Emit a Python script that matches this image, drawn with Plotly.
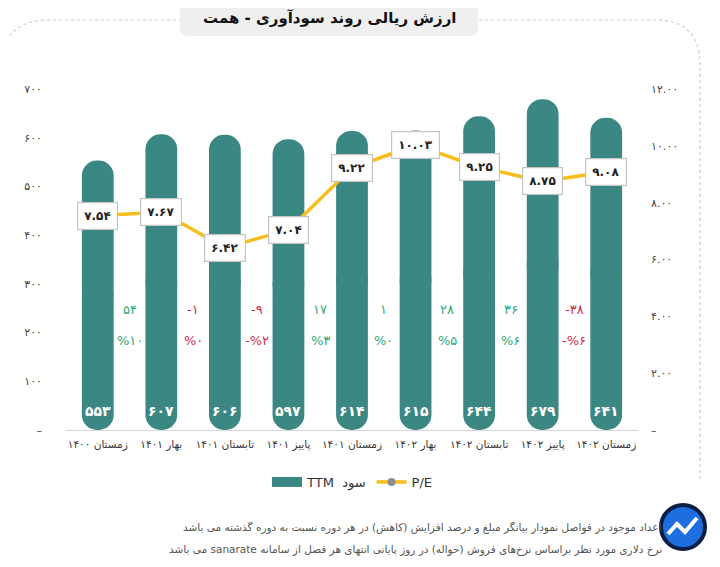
import plotly.graph_objects as go

# ---------------- data ----------------
categories = ["زمستان ۱۴۰۰", "بهار ۱۴۰۱", "تابستان ۱۴۰۱", "پاییز ۱۴۰۱", "زمستان ۱۴۰۱",
              "بهار ۱۴۰۲", "تابستان ۱۴۰۲", "پاییز ۱۴۰۲", "زمستان ۱۴۰۲"]
ttm_profit = [553, 607, 606, 597, 614, 615, 644, 679, 641]
pe_ratio = [7.54, 7.67, 6.42, 7.04, 9.22, 10.03, 9.25, 8.75, 9.08]
change_amount = [54, -1, -9, 17, 1, 28, 36, -38]
change_percent = [10, 0, -2, 3, 0, 5, 6, -6]
left_tick_vals = [0, 100, 200, 300, 400, 500, 600, 700]
left_tick_text = ["–", "۱۰۰", "۲۰۰", "۳۰۰", "۴۰۰", "۵۰۰", "۶۰۰", "۷۰۰"]
right_tick_vals = [0, 2, 4, 6, 8, 10, 12]
right_tick_text = ["–", "۲.۰۰", "۴.۰۰", "۶.۰۰", "۸.۰۰", "۱۰.۰۰", "۱۲.۰۰"]

title_text = "ارزش ریالی روند سودآوری - همت"
legend_bar = "TTM  سود"
legend_line = "P/E"
note1 = "اعداد موجود در فواصل نمودار بیانگر مبلغ و درصد افزایش (کاهش) در هر دوره نسبت به دوره گذشته می باشد"
note2 = "نرخ دلاری مورد نظر براساس نرخ‌های فروش (حواله) در روز پایانی انتهای هر فصل از سامانه sanarate می باشد"

# ---------------- style ----------------
TEAL = "#3B8783"
YELLOW = "#F7BE1E"
GREEN = "#2FAA78"
RED = "#CF2F4B"
FONT = "DejaVu Sans"
OFF = 8                      # page body margin of the html page
W, H = 720 - OFF, 567 - OFF
L, R, T, B = 66, 638, 89, 430  # plot area in window px

def fa(s):
    return str(s).translate(str.maketrans("0123456789", "۰۱۲۳۴۵۶۷۸۹"))

def rtl(s):
    return "\u202B" + s + "\u202C"

def px(x):
    return (x - L) / (R - L)

def py(y):
    return (B - y) / (B - T)

fig = go.Figure()

# pill-shaped bars: drawn as two overlapping halves, each rounded at its tip
fig.add_trace(go.Bar(
    x=categories, y=[-v * 0.55 for v in ttm_profit], base=[v * 0.55 for v in ttm_profit],
    marker=dict(color=TEAL, line=dict(width=0), cornerradius="50%"),
    showlegend=False, hoverinfo="skip"))
fig.add_trace(go.Bar(
    x=categories, y=[v * 0.55 for v in ttm_profit], base=[v * 0.45 for v in ttm_profit],
    marker=dict(color=TEAL, line=dict(width=0), cornerradius="50%"),
    showlegend=False, hoverinfo="skip"))

# legend entry for TTM profit (wide swatch)
fig.add_trace(go.Scatter(x=[None], y=[None], mode="lines", name=legend_bar,
                         line=dict(color=TEAL, width=10)))

# P/E line
fig.add_trace(go.Scatter(
    x=categories, y=pe_ratio, yaxis="y2", mode="lines+markers", name=legend_line,
    line=dict(color=YELLOW, width=3.5), marker=dict(color="#8C8C8C", size=8)))

annotations = []
# P/E value boxes
for i, v in enumerate(pe_ratio):
    annotations.append(dict(
        x=i, y=v, xref="x", yref="y2", text="<b>" + fa(f"{v:.2f}") + "</b>", showarrow=False,
        bgcolor="white", bordercolor="#C4C4C4", borderwidth=1.2, borderpad=6,
        font=dict(family=FONT, size=12, color="#222")))
# bar values at bottom of bars
for i, v in enumerate(ttm_profit):
    annotations.append(dict(
        x=i, y=40, xref="x", yref="y", text="<b>" + fa(v) + "</b>", showarrow=False,
        font=dict(family=FONT, size=14, color="white")))
# change amount / percent between bars
for i, (a, p) in enumerate(zip(change_amount, change_percent)):
    col = GREEN if a > 0 else RED
    a_txt = ("-" if a < 0 else "") + fa(abs(a))
    p_txt = ("-" if p < 0 else "") + "%" + fa(abs(p))
    annotations.append(dict(x=i + 0.5, y=247, xref="x", yref="y", text=a_txt, showarrow=False,
                            font=dict(family=FONT, size=13, color=col)))
    annotations.append(dict(x=i + 0.5, y=183, xref="x", yref="y", text=p_txt, showarrow=False,
                            font=dict(family=FONT, size=13, color=col)))
# title
annotations.append(dict(x=px(329), y=py(18), xref="paper", yref="paper", text="<b>" + title_text + "</b>",
                        xanchor="center", yanchor="middle",
                        showarrow=False, font=dict(family=FONT, size=15, color="#111")))
# footnotes
annotations.append(dict(x=px(664), y=py(527), xref="paper", yref="paper", text=note1,
                        xanchor="right", yanchor="middle", showarrow=False,
                        font=dict(family=FONT, size=10.5, color="#555")))
annotations.append(dict(x=px(664), y=py(549), xref="paper", yref="paper", text=rtl(note2),
                        xanchor="right", yanchor="middle", showarrow=False,
                        font=dict(family=FONT, size=10.5, color="#555")))

shapes = []
# dotted frame
frame = (f"M {px(0)},{py(70)} Q {px(0)},{py(20)} {px(50)},{py(20)} "
         f"L {px(655)},{py(20)} Q {px(700)},{py(20)} {px(700)},{py(65)} L {px(700)},{py(480)}")
shapes.append(dict(type="path", path=frame, xref="paper", yref="paper",
                   line=dict(color="#CFCFCF", width=1.2, dash="dot"), layer="below"))
# title box
x0, x1, y0, y1, r = 180, 478, 0, 36, 8
tb = (f"M {px(x0 + r)},{py(y0)} L {px(x1 - r)},{py(y0)} Q {px(x1)},{py(y0)} {px(x1)},{py(y0 + r)} "
      f"L {px(x1)},{py(y1 - r)} Q {px(x1)},{py(y1)} {px(x1 - r)},{py(y1)} "
      f"L {px(x0 + r)},{py(y1)} Q {px(x0)},{py(y1)} {px(x0)},{py(y1 - r)} "
      f"L {px(x0)},{py(y0 + r)} Q {px(x0)},{py(y0)} {px(x0 + r)},{py(y0)} Z")
shapes.append(dict(type="path", path=tb, xref="paper", yref="paper",
                   fillcolor="#EFEFEF", line=dict(width=0), layer="below"))
# logo
shapes.append(dict(type="circle", xref="paper", yref="paper",
                   x0=px(661), x1=px(705), y0=py(505), y1=py(549),
                   fillcolor="#1D6FE0", line=dict(color="#0B1E45", width=4), layer="above"))
logo = (f"M {px(668)},{py(534)} L {px(677)},{py(524)} L {px(685)},{py(532)} L {px(697)},{py(518)}")
shapes.append(dict(type="path", path=logo, xref="paper", yref="paper",
                   line=dict(color="white", width=4), layer="above"))

fig.update_layout(
    width=W, height=H,
    margin=dict(l=L - OFF, r=720 - R, t=T - OFF, b=567 - B, pad=0),
    paper_bgcolor="white", plot_bgcolor="white",
    barmode="overlay", bargap=0.5,
    font=dict(family=FONT, color="#333"),
    xaxis=dict(type="category", range=[-0.5, 8.5], showgrid=False, showline=True,
               linecolor="#D6D6D6", linewidth=1, ticks="", ticklabelstandoff=4,
               tickfont=dict(family=FONT, size=10.5, color="#333"), zeroline=False),
    yaxis=dict(range=[0, 700], tickvals=left_tick_vals, ticktext=left_tick_text, showgrid=False,
               zeroline=False, ticks="", ticklabelstandoff=23,
               tickfont=dict(family=FONT, size=11, color="#444")),
    yaxis2=dict(range=[0, 12], overlaying="y", side="right", tickvals=right_tick_vals,
                ticktext=right_tick_text, showgrid=False, zeroline=False, ticks="",
                ticklabelstandoff=12, tickfont=dict(family=FONT, size=11, color="#444")),
    legend=dict(orientation="h", x=px(352), xanchor="center", y=py(482), yanchor="middle",
                font=dict(family=FONT, size=13, color="#333"), bgcolor="rgba(0,0,0,0)",
                itemwidth=30),
    annotations=annotations, shapes=shapes,
)

fig.write_html("out.html")
